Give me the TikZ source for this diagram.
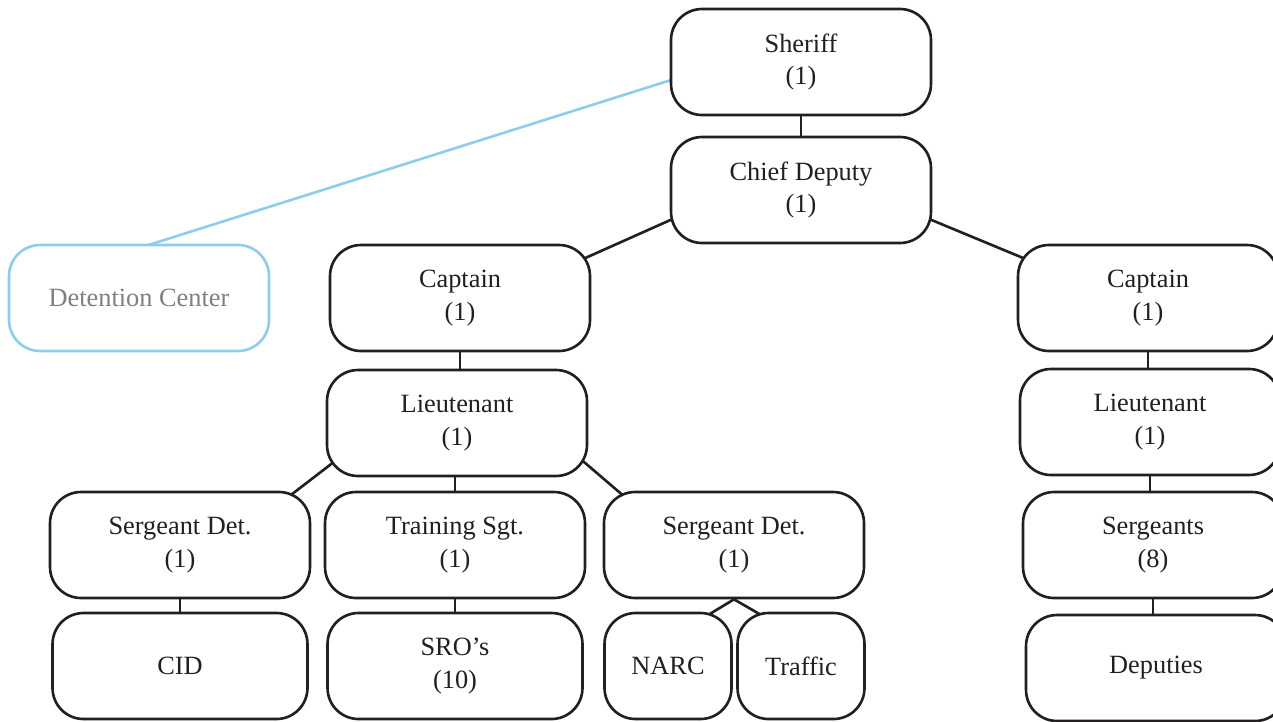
\documentclass[tikz,border=0pt]{standalone}
\usepackage{fontspec}
\setmainfont{Liberation Serif}
\usetikzlibrary{backgrounds}

\definecolor{detblue}{RGB}{142,206,234}
\definecolor{detgray}{RGB}{128,128,130}
\definecolor{ink}{RGB}{35,31,32}

\tikzset{
  unit/.style={draw=ink, fill=white, line width=1.5pt, rounded corners=0.62cm,
    minimum width=5.2cm, minimum height=2.12cm, align=center,
    font=\fontsize{15}{18.5}\selectfont, text=ink},
  small/.style={unit, minimum width=5.1cm},
  tiny/.style={unit, minimum width=2.54cm},
  link/.style={line width=1.5pt, draw=ink},
  slant/.style={link, shorten <=-12pt, shorten >=-12pt},
}

\begin{document}
\begin{tikzpicture}[x=0.02cm, y=-0.02cm]
      \useasboundingbox (0,0) rectangle (1273,721);

      % Comando
      \node[unit] (sheriff) at (801,62) {Sheriff\\(1)};
      \node[unit] (chief) at (801,190) {Chief Deputy\\(1)};
      \node[unit, draw=detblue, text=detgray] (detention) at (139,298) {Detention Center};

      % Lado esquerdo
      \node[unit] (capL) at (460,298) {Captain\\(1)};
      \node[unit] (lieutL) at (457,423) {Lieutenant\\(1)};
      \node[unit] (sgtL) at (180,545) {Sergeant Det.\\(1)};
      \node[unit] (training) at (455,545) {Training Sgt.\\(1)};
      \node[unit] (sgtR) at (734,545) {Sergeant Det.\\(1)};
      \node[small] (cid) at (180,666) {CID};
      \node[small] (sro) at (455,666) {SRO’s\\(10)};
      \node[tiny] (narc) at (668,666) {NARC};
      \node[tiny] (traffic) at (801,666) {Traffic};

      % Lado direito
      \node[unit] (capR) at (1148,298) {Captain\\(1)};
      \node[unit] (lieutR) at (1150,422) {Lieutenant\\(1)};
      \node[unit] (sergeants) at (1153,545) {Sergeants\\(8)};
      \node[unit] (deputies) at (1156,668) {Deputies};

      % Ligacoes
      \begin{pgfonlayer}{background}
        \draw[link] (sheriff.south) -- (chief.north);
        \draw[slant] (chief.193) -- (capL.18);
        \draw[slant] (chief.347) -- (capR.162);
        \draw[link] (capL.south) -- (capL.south |- lieutL.north);
        \draw[slant] (lieutL.199) -- (sgtL.25);
        \draw[link] (lieutL.south -| training.north) -- (training.north);
        \draw[slant] (lieutL.342) -- (sgtR.155);
        \draw[link] (sgtL.south) -- (cid.north);
        \draw[link] (training.south) -- (sro.north);
        \draw[slant] (sgtR.south) -- (narc.50);
        \draw[slant] (sgtR.south) -- (traffic.130);
        \draw[link] (capR.south) -- (capR.south |- lieutR.north);
        \draw[link] (lieutR.south) -- (lieutR.south |- sergeants.north);
        \draw[link] (sergeants.south) -- (sergeants.south |- deputies.north);
        \draw[slant, draw=detblue] (sheriff.188) -- (detention.76);
      \end{pgfonlayer}
\end{tikzpicture}
\end{document}
